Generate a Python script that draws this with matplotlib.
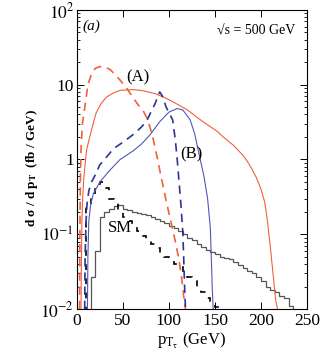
import numpy as np
import matplotlib
matplotlib.use("Agg")
from matplotlib import pyplot as plt
from matplotlib.ticker import LogLocator, NullFormatter, FixedLocator

plt.rcParams['font.family'] = ['Liberation Serif', 'DejaVu Serif']
plt.rcParams['mathtext.fontset'] = 'stix'

# (A) curves, red
a_sol_x = [4.5, 5, 5.5, 6.3, 7.5, 8.7, 10.6, 14, 18, 21, 26, 32, 40, 47, 61, 72, 85, 93, 100, 110, 120, 134,
           142, 152, 160, 170, 180, 185, 190, 195, 200, 204, 207, 210, 213, 216, 218]
a_sol_y = [0.01, 0.05, 0.15, 0.3, 0.55, 0.8, 1.35, 2.0, 3.1, 4.2, 5.5, 6.8, 7.8, 8.4, 8.6, 8.3, 7.6, 6.9, 6.3, 5.4, 4.6, 3.4,
           2.9, 2.4, 1.95, 1.55, 1.15, 0.95, 0.75, 0.57, 0.4, 0.27, 0.15, 0.07, 0.03, 0.013, 0.01]
a_das_x = [3, 3.3, 3.8, 4.5, 6, 8.7, 12, 16, 20, 25, 32, 36, 42, 47, 54, 60, 66, 72, 77, 82, 87,
           92, 97, 102, 107, 111, 114, 116, 118]
a_das_y = [0.01, 0.1, 0.5, 1.3, 3, 5, 10, 14, 16.5, 17.5, 16.8, 16, 13.5, 11.5, 9, 7, 5.5, 4.5, 3.4, 2.1, 1.1,
           0.55, 0.28, 0.15, 0.08, 0.045, 0.025, 0.015, 0.01]

# (B) curves, blue
b_sol_x = [11.5, 12, 13, 15, 18, 25, 35, 47, 61, 70, 79, 90, 100, 109, 115, 123, 128, 134,
           138, 142, 145, 146, 147, 148]
b_sol_y = [0.01, 0.05, 0.15, 0.25, 0.35, 0.5, 0.7, 1.0, 1.3, 1.6, 2.1, 3.2, 4.3, 4.8, 4.6, 3.4, 2.2, 1.0,
           0.6, 0.3, 0.12, 0.05, 0.02, 0.01]
b_das_x = [8.5, 9, 10, 11, 13, 16, 20, 25, 30, 40, 50, 60, 70, 76, 80, 85, 90, 93, 97, 104,
           107, 109, 111, 113, 115, 116, 117, 118]
b_das_y = [0.01, 0.05, 0.15, 0.25, 0.38, 0.5, 0.62, 0.85, 1.0, 1.4, 1.7, 2.1, 2.7, 3.3, 4.2, 5.6, 8, 7, 5, 3.4,
           1.8, 1.0, 0.5, 0.25, 0.11, 0.05, 0.02, 0.01]

# SM histograms (5 GeV bins)
sm_das_edges = np.arange(10, 165, 5)
sm_das_vals = [0.25, 0.32, 0.42, 0.5, 0.42, 0.3, 0.26, 0.21, 0.17, 0.15, 0.13, 0.11, 0.095, 0.085, 0.075,
               0.065, 0.057, 0.05, 0.045, 0.04, 0.036, 0.03, 0.027, 0.024, 0.02, 0.017, 0.014, 0.012,
               0.0105, 0.009]
sm_sol_edges = np.arange(15, 240, 5)
sm_sol_vals = [0.027, 0.06, 0.17, 0.2, 0.22, 0.24, 0.25, 0.22, 0.21, 0.2, 0.19, 0.185, 0.18, 0.17, 0.16,
               0.15, 0.14, 0.13, 0.12, 0.11, 0.1, 0.09, 0.085, 0.075, 0.068, 0.062, 0.058, 0.054, 0.05,
               0.048, 0.046, 0.042, 0.039, 0.035, 0.032, 0.03, 0.027, 0.024, 0.02, 0.018, 0.017, 0.015,
               0.014, 0.011]

fig = plt.figure(figsize=(3.27, 3.54), dpi=100)
ax = fig.add_axes([0.235, 0.127, 0.704, 0.845])

red = '#f0603c'
ax.plot(a_sol_x, a_sol_y, color=red, lw=0.8)
ax.plot(a_das_x, a_das_y, color=red, lw=1.2, ls=(0, (5, 3.5)))
ax.plot(b_sol_x, b_sol_y, color='#5058b8', lw=0.8)
ax.plot(b_das_x, b_das_y, color='#2c3494', lw=1.2, ls=(0, (5, 3.5)))

ax.stairs(sm_sol_vals, sm_sol_edges, baseline=0.001, color='#555555', lw=0.9)
ax.stairs(sm_das_vals, sm_das_edges, baseline=0.001, color='black', lw=1.2, ls=(0, (3.5, 5)))

ax.set_yscale('log')
ax.set_xlim(0, 250)
ax.set_ylim(0.01, 100)
ax.set_yticks([0.01, 0.1, 1, 10, 100])
ax.set_yticklabels([r'$10^{-2}$', r'$10^{-1}$', '1', '10', r'$10^{2}$'])
ax.yaxis.set_minor_locator(LogLocator(base=10, subs=np.arange(2, 10)))
ax.yaxis.set_minor_formatter(NullFormatter())
ax.set_xticks([0, 50, 100, 150, 200, 250])
ax.xaxis.set_minor_locator(FixedLocator([]))
ax.tick_params(which='both', direction='in', top=True, right=True, labelsize=12.5)
ax.tick_params(which='major', length=5, width=0.7)
ax.tick_params(which='minor', length=2.5, width=0.6)
ax.tick_params(axis='x', pad=3)
ax.tick_params(axis='y', pad=2)
for s in ax.spines.values():
    s.set_linewidth(0.8)

ax.set_xlabel(r'p$_{\rm T_\tau}$ (GeV)', fontsize=12, labelpad=1)
ax.set_ylabel('d \u03c3 / d p$_{\\mathbf{T}}$  (fb / GeV)', fontsize=9.5, fontweight='bold')
ax.yaxis.set_label_coords(-0.16, 0.47)

ax.text(6.5, 54, '(a)', fontsize=11, style='italic')
ax.text(237, 46, '\u221as = 500 GeV', fontsize=10, ha='right')
ax.text(54, 11, '(A)', fontsize=12)
ax.text(112, 1.05, '(B)', fontsize=12)
ax.text(33.7, 0.107, 'SM', fontsize=12)

fig.savefig('out.png', dpi=100)
